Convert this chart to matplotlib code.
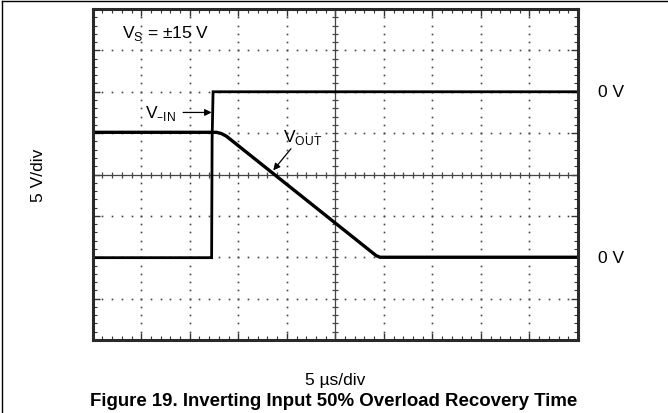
import numpy as np
import matplotlib.pyplot as plt
from matplotlib.lines import Line2D

plt.rcParams['font.family'] = ['Liberation Sans', 'DejaVu Sans']

# Scope screen in divisions: 10 horizontal (5 us/div), 8 vertical (5 V/div)
vin_t = [0.0, 2.45, 2.46, 2.48, 10.0]
vin_v = [-2.01, -2.01, 0.85, 2.0, 2.0]

vout_t = [0.0, 2.55, 2.65, 2.75, 5.84, 5.92, 10.0]
vout_v = [1.02, 1.02, 0.99, 0.93, -1.96, -2.0, -2.0]

x_major = np.arange(0, 11, 1)
y_major = np.arange(-4, 5, 1)
minor_step = 0.2

fig = plt.figure(figsize=(6.68, 4.14), dpi=100)
ax = fig.add_axes([0.1388, 0.1763, 0.7265, 0.7995])
ax.set_xlim(0, 10)
ax.set_ylim(-4, 4)

# dotted graticule
gx = np.arange(0, 10 + 1e-9, minor_step)
gy = np.arange(-4, 4 + 1e-9, minor_step)
for xv in x_major[1:-1]:
    if xv == 5:
        continue
    ax.plot(np.full_like(gy, xv), gy, ls='none', marker='s', ms=1.2,
            mec='none', mfc='#444444')
for yv in y_major[1:-1]:
    if yv == 0:
        continue
    ax.plot(gx, np.full_like(gx, yv), ls='none', marker='s', ms=1.2,
            mec='none', mfc='#444444')

# centre cross with small ticks
ax.axhline(0, color='#444444', lw=0.9)
ax.axvline(5, color='#444444', lw=0.9)
ax.plot(gx, np.zeros_like(gx), ls='none', marker='|', ms=5, mew=0.9, color='#444444')
ax.plot(np.full_like(gy, 5), gy, ls='none', marker='_', ms=5, mew=0.9, color='#444444')

# traces
ax.plot(vin_t, vin_v, color='black', lw=2.0, solid_joinstyle='miter')
ax.plot(vout_t, vout_v, color='black', lw=2.4)

# border ticks
ax.set_xticks(x_major)
ax.set_yticks(y_major)
ax.set_xticks(gx, minor=True)
ax.set_yticks(gy, minor=True)
ax.tick_params(which='both', direction='in', top=True, right=True,
               labelbottom=False, labelleft=False, color='#333333')
ax.tick_params(which='major', length=5, width=1.0)
ax.tick_params(which='minor', length=3, width=0.8)
for sp in ax.spines.values():
    sp.set_linewidth(2.2)
    sp.set_color('#2a2a2a')

# annotations
fs = 12.5
ax.text(0.6, 3.43, r'V$_\mathregular{S}$ = ±15 V', fontsize=fs, va='center', ha='left')
ax.annotate(r'V$_\mathregular{–IN}$', xy=(2.45, 1.5), xytext=(1.72, 1.5),
            fontsize=fs, va='center', ha='right',
            arrowprops=dict(arrowstyle='-|>', color='black', lw=0.9,
                            shrinkA=3, shrinkB=0, mutation_scale=10))
ax.annotate(r'V$_\mathregular{OUT}$', xy=(3.72, 0.1), xytext=(3.93, 0.92),
            fontsize=fs, va='center', ha='left',
            arrowprops=dict(arrowstyle='-|>', color='black', lw=0.9,
                            shrinkA=0, shrinkB=0, mutation_scale=10,
                            relpos=(0.25, 0.0)))
ax.text(10.41, 2.0, '0 V', fontsize=fs, va='center', ha='left', clip_on=False)
ax.text(10.41, -2.0, '0 V', fontsize=fs, va='center', ha='left', clip_on=False)

fig.text(0.057, 0.577, '5 V/div', rotation=90, fontsize=fs, ha='center', va='center')
fig.text(0.502, 0.082, '5 µs/div', fontsize=fs, ha='center', va='center')
fig.text(0.500, 0.031, 'Figure 19. Inverting Input 50% Overload Recovery Time',
         fontsize=13.4, fontweight='bold', ha='center', va='center')

# outer frame (top and left edges)
fig.add_artist(Line2D([0.003, 1.0], [0.995, 0.995], color='black', lw=1.0))
fig.add_artist(Line2D([0.003, 0.003], [0.0, 0.995], color='black', lw=1.0))

fig.savefig('out.png', dpi=100)
